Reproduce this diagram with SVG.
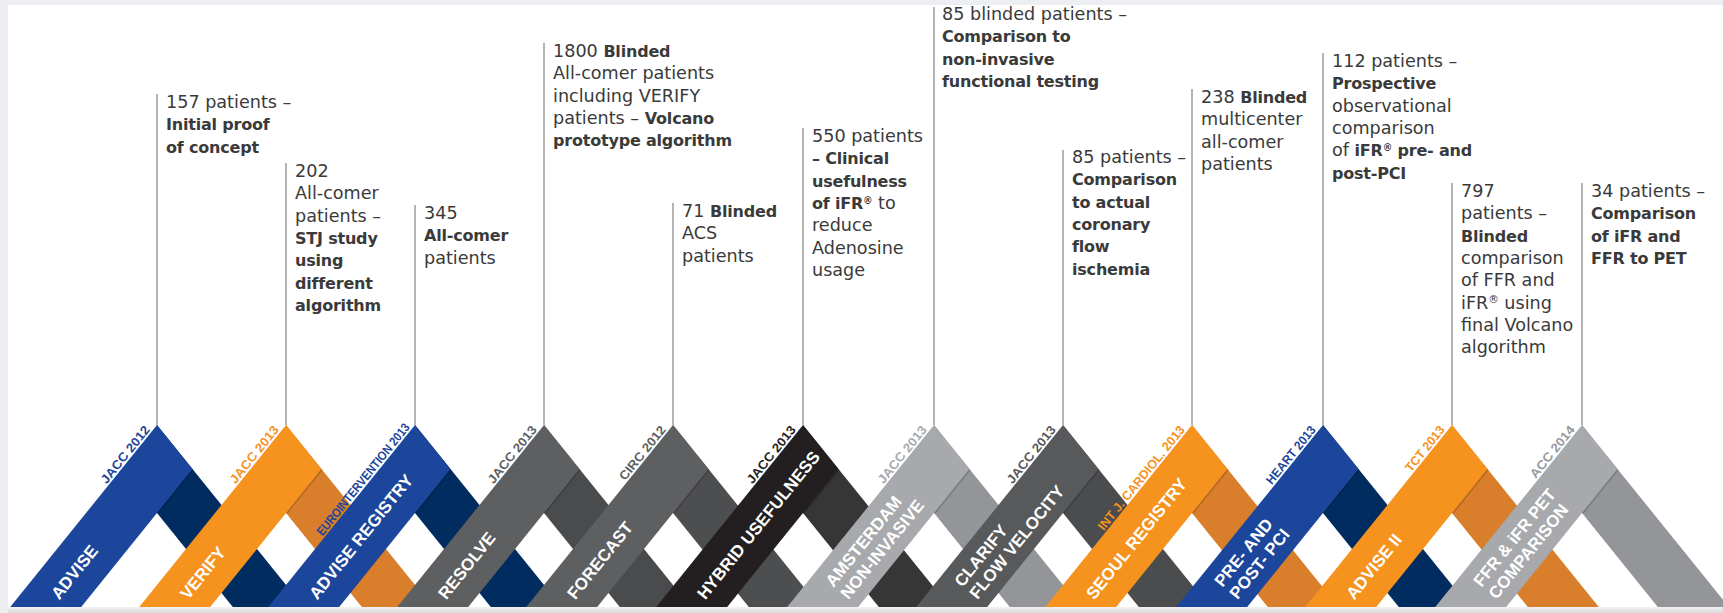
<svg xmlns="http://www.w3.org/2000/svg" width="1723" height="613" viewBox="0 0 1723 613">
<defs>
<style>
.t{font-family:"DejaVu Sans",sans-serif;font-size:17.6px;fill:#3a3a3a}
.b{font-weight:bold;font-size:16px;letter-spacing:-0.2px}
.lbl{font-family:"Liberation Sans",Arial,sans-serif;font-weight:bold;font-size:17px;fill:#fff}
.jr{font-family:"Liberation Sans",Arial,sans-serif;font-weight:bold;font-size:12.5px;text-anchor:end}
.stem{stroke:#8c8c8c;stroke-width:1.3}
.sh{stroke:#000;stroke-opacity:.18;stroke-width:3}
</style>
<path id="L" d="M0,0 L35.48,44 L-102.42,215 L-173.39,215 Z"/>
<path id="R" d="M0,0 L173.39,215 L102.42,215 L0,88 Z"/>
<clipPath id="clip"><rect x="8" y="5" width="1715" height="602"/></clipPath>
<linearGradient id="bot" x1="0" y1="0" x2="0" y2="1"><stop offset="0" stop-color="#f2f2f2"/><stop offset="1" stop-color="#dadada"/></linearGradient>
</defs>
<rect width="1723" height="613" fill="#eceef2"/>
<rect x="8" y="5" width="1715" height="602" fill="#fff"/>
<rect x="8" y="607" width="1715" height="6" fill="url(#bot)"/>

<g id="connectors">
<line class="stem" x1="157" y1="94" x2="157" y2="425"/>
<line class="stem" x1="286" y1="163" x2="286" y2="425"/>
<line class="stem" x1="415" y1="205" x2="415" y2="425"/>
<line class="stem" x1="544" y1="43" x2="544" y2="425"/>
<line class="stem" x1="673" y1="203" x2="673" y2="425"/>
<line class="stem" x1="803" y1="128" x2="803" y2="425"/>
<line class="stem" x1="934" y1="7" x2="934" y2="425"/>
<line class="stem" x1="1063" y1="150" x2="1063" y2="425"/>
<line class="stem" x1="1192" y1="89" x2="1192" y2="425"/>
<line class="stem" x1="1323" y1="53" x2="1323" y2="425"/>
<line class="stem" x1="1452" y1="183" x2="1452" y2="425"/>
<line class="stem" x1="1582" y1="183" x2="1582" y2="425"/>
</g>

<g clip-path="url(#clip)">

<g id="advise">
 <g transform="translate(157,425)">
  <use href="#R" fill="#002c5f"/><line class="sh" x1="0" y1="88" x2="35.48" y2="44"/><use href="#L" fill="#1c469b"/>
  <g transform="rotate(-51.11)">
   <text class="lbl" x="-198" y="34">ADVISE</text>
   <text class="jr" x="-8" y="-2" fill="#1c469b" textLength="70" lengthAdjust="spacingAndGlyphs">JACC 2012</text>
  </g>
 </g>
 <text class="t" x="166" y="108">157 patients –</text>
 <text class="t b" x="166" y="130.3">Initial proof</text>
 <text class="t b" x="166" y="152.6">of concept</text>
</g>

<g id="verify">
 <g transform="translate(286,425)">
  <use href="#R" fill="#d97e2b"/><line class="sh" x1="0" y1="88" x2="35.48" y2="44"/><use href="#L" fill="#f6921e"/>
  <g transform="rotate(-51.11)">
   <text class="lbl" x="-198" y="34">VERIFY</text>
   <text class="jr" x="-8" y="-2" fill="#f6921e" textLength="70" lengthAdjust="spacingAndGlyphs">JACC 2013</text>
  </g>
 </g>
 <text class="t" x="295" y="177">202</text>
 <text class="t" x="295" y="199.3">All-comer</text>
 <text class="t" x="295" y="221.6">patients –</text>
 <text class="t b" x="295" y="243.9">STJ study</text>
 <text class="t b" x="295" y="266.2">using</text>
 <text class="t b" x="295" y="288.5">different</text>
 <text class="t b" x="295" y="310.8">algorithm</text>
</g>

<g id="advise-registry">
 <g transform="translate(415,425)">
  <use href="#R" fill="#002c5f"/><line class="sh" x1="0" y1="88" x2="35.48" y2="44"/><use href="#L" fill="#1c469b"/>
  <g transform="rotate(-51.11)">
   <text class="lbl" x="-198" y="34">ADVISE REGISTRY</text>
   <text class="jr" x="-5" y="-2" fill="#1c469b" textLength="140" lengthAdjust="spacingAndGlyphs">EUROINTERVENTION 2013</text>
  </g>
 </g>
 <text class="t" x="424" y="219">345</text>
 <text class="t b" x="424" y="241.3">All-comer</text>
 <text class="t" x="424" y="263.6">patients</text>
</g>

<g id="resolve">
 <g transform="translate(544,425)">
  <use href="#R" fill="#4a4b4d"/><line class="sh" x1="0" y1="88" x2="35.48" y2="44"/><use href="#L" fill="#5e5f61"/>
  <g transform="rotate(-51.11)">
   <text class="lbl" x="-198" y="34">RESOLVE</text>
   <text class="jr" x="-8" y="-2" fill="#5e5f61" textLength="70" lengthAdjust="spacingAndGlyphs">JACC 2013</text>
  </g>
 </g>
 <text class="t" x="553" y="57">1800 <tspan class="b">Blinded</tspan></text>
 <text class="t" x="553" y="79.3">All-comer patients</text>
 <text class="t" x="553" y="101.6">including VERIFY</text>
 <text class="t" x="553" y="123.9">patients – <tspan class="b">Volcano</tspan></text>
 <text class="t b" x="553" y="146.2">prototype algorithm</text>
</g>

<g id="forecast">
 <g transform="translate(673,425)">
  <use href="#R" fill="#4d4e50"/><line class="sh" x1="0" y1="88" x2="35.48" y2="44"/><use href="#L" fill="#5e5f61"/>
  <g transform="rotate(-51.11)">
   <text class="lbl" x="-198" y="34">FORECAST</text>
   <text class="jr" x="-8" y="-2" fill="#5e5f61" textLength="66" lengthAdjust="spacingAndGlyphs">CIRC 2012</text>
  </g>
 </g>
 <text class="t" x="682" y="217">71 <tspan class="b">Blinded</tspan></text>
 <text class="t" x="682" y="239.3">ACS</text>
 <text class="t" x="682" y="261.6">patients</text>
</g>

<g id="hybrid-usefulness">
 <g transform="translate(803,425)">
  <use href="#R" fill="#363637"/><line class="sh" x1="0" y1="88" x2="35.48" y2="44"/><use href="#L" fill="#231f20"/>
  <g transform="rotate(-51.11)">
   <text class="lbl" x="-198" y="34">HYBRID USEFULNESS</text>
   <text class="jr" x="-8" y="-2" fill="#231f20" textLength="70" lengthAdjust="spacingAndGlyphs">JACC 2013</text>
  </g>
 </g>
 <text class="t" x="812" y="142">550 patients</text>
 <text class="t b" x="812" y="164.3">– Clinical</text>
 <text class="t b" x="812" y="186.6">usefulness</text>
 <text class="t" x="812" y="208.9"><tspan class="b">of iFR<tspan font-size="60%" baseline-shift="super">®</tspan></tspan> to</text>
 <text class="t" x="812" y="231.2">reduce</text>
 <text class="t" x="812" y="253.5">Adenosine</text>
 <text class="t" x="812" y="275.8">usage</text>
</g>

<g id="amsterdam">
 <g transform="translate(934,425)">
  <use href="#R" fill="#939598"/><line class="sh" x1="0" y1="88" x2="35.48" y2="44"/><use href="#L" fill="#a7a9ac"/>
  <g transform="rotate(-51.11)">
   <text class="lbl" x="-190" y="24">AMSTERDAM</text>
   <text class="lbl" x="-190" y="43.5">NON-INVASIVE</text>
   <text class="jr" x="-8" y="-2" fill="#a7a9ac" textLength="70" lengthAdjust="spacingAndGlyphs">JACC 2013</text>
  </g>
 </g>
 <text class="t" x="942" y="20">85 blinded patients –</text>
 <text class="t b" x="942" y="42.3">Comparison to</text>
 <text class="t b" x="942" y="64.6">non-invasive</text>
 <text class="t b" x="942" y="86.9">functional testing</text>
</g>

<g id="clarify">
 <g transform="translate(1063,425)">
  <use href="#R" fill="#4b4c4e"/><line class="sh" x1="0" y1="88" x2="35.48" y2="44"/><use href="#L" fill="#58595b"/>
  <g transform="rotate(-51.11)">
   <text class="lbl" x="-190" y="24">CLARIFY</text>
   <text class="lbl" x="-190" y="43.5">FLOW VELOCITY</text>
   <text class="jr" x="-8" y="-2" fill="#58595b" textLength="70" lengthAdjust="spacingAndGlyphs">JACC 2013</text>
  </g>
 </g>
 <text class="t" x="1072" y="163">85 patients –</text>
 <text class="t b" x="1072" y="185.3">Comparison</text>
 <text class="t b" x="1072" y="207.6">to actual</text>
 <text class="t b" x="1072" y="229.9">coronary</text>
 <text class="t b" x="1072" y="252.2">flow</text>
 <text class="t b" x="1072" y="274.5">ischemia</text>
</g>

<g id="seoul-registry">
 <g transform="translate(1192,425)">
  <use href="#R" fill="#d97e2b"/><line class="sh" x1="0" y1="88" x2="35.48" y2="44"/><use href="#L" fill="#f6921e"/>
  <g transform="rotate(-51.11)">
   <text class="lbl" x="-198" y="34">SEOUL REGISTRY</text>
   <text class="jr" x="-8" y="-2" fill="#f6921e" textLength="130" lengthAdjust="spacingAndGlyphs">INT J. CARDIOL. 2013</text>
  </g>
 </g>
 <text class="t" x="1201" y="103">238 <tspan class="b">Blinded</tspan></text>
 <text class="t" x="1201" y="125.3">multicenter</text>
 <text class="t" x="1201" y="147.6">all-comer</text>
 <text class="t" x="1201" y="169.9">patients</text>
</g>

<g id="pre-post-pci">
 <g transform="translate(1323,425)">
  <use href="#R" fill="#002c5f"/><line class="sh" x1="0" y1="88" x2="35.48" y2="44"/><use href="#L" fill="#1c469b"/>
  <g transform="rotate(-51.11)">
   <text class="lbl" x="-190" y="24">PRE- AND</text>
   <text class="lbl" x="-190" y="43.5">POST- PCI</text>
   <text class="jr" x="-8" y="-2" fill="#1c469b" textLength="71" lengthAdjust="spacingAndGlyphs">HEART 2013</text>
  </g>
 </g>
 <text class="t" x="1332" y="67">112 patients –</text>
 <text class="t b" x="1332" y="89.3">Prospective</text>
 <text class="t" x="1332" y="111.6">observational</text>
 <text class="t" x="1332" y="133.9">comparison</text>
 <text class="t" x="1332" y="156.2">of <tspan class="b">iFR<tspan font-size="60%" baseline-shift="super">®</tspan> pre- and</tspan></text>
 <text class="t b" x="1332" y="178.5">post-PCI</text>
</g>

<g id="advise-ii">
 <g transform="translate(1452,425)">
  <use href="#R" fill="#d97e2b"/><line class="sh" x1="0" y1="88" x2="35.48" y2="44"/><use href="#L" fill="#f6921e"/>
  <g transform="rotate(-51.11)">
   <text class="lbl" x="-198" y="34">ADVISE II</text>
   <text class="jr" x="-8" y="-2" fill="#f6921e" textLength="55" lengthAdjust="spacingAndGlyphs">TCT 2013</text>
  </g>
 </g>
 <text class="t" x="1461" y="197">797</text>
 <text class="t" x="1461" y="219.3">patients –</text>
 <text class="t b" x="1461" y="241.6">Blinded</text>
 <text class="t" x="1461" y="263.9">comparison</text>
 <text class="t" x="1461" y="286.2">of FFR and</text>
 <text class="t" x="1461" y="308.5">iFR<tspan font-size="60%" baseline-shift="super">®</tspan> using</text>
 <text class="t" x="1461" y="330.8">final Volcano</text>
 <text class="t" x="1461" y="353.1">algorithm</text>
</g>

<g id="ffr-ifr-pet">
 <g transform="translate(1582,425)">
  <use href="#R" fill="#939598"/><line class="sh" x1="0" y1="88" x2="35.48" y2="44"/><use href="#L" fill="#a7a9ac"/>
  <g transform="rotate(-51.11)">
   <text class="lbl" x="-190" y="24">FFR &amp; iFR PET</text>
   <text class="lbl" x="-190" y="43.5">COMPARISON</text>
   <text class="jr" x="-8" y="-2" fill="#97999c" textLength="63" lengthAdjust="spacingAndGlyphs">ACC 2014</text>
  </g>
 </g>
 <text class="t" x="1591" y="197">34 patients –</text>
 <text class="t b" x="1591" y="219.3">Comparison</text>
 <text class="t b" x="1591" y="241.6">of iFR and</text>
 <text class="t b" x="1591" y="263.9">FFR to PET</text>
</g>

</g>
</svg>
